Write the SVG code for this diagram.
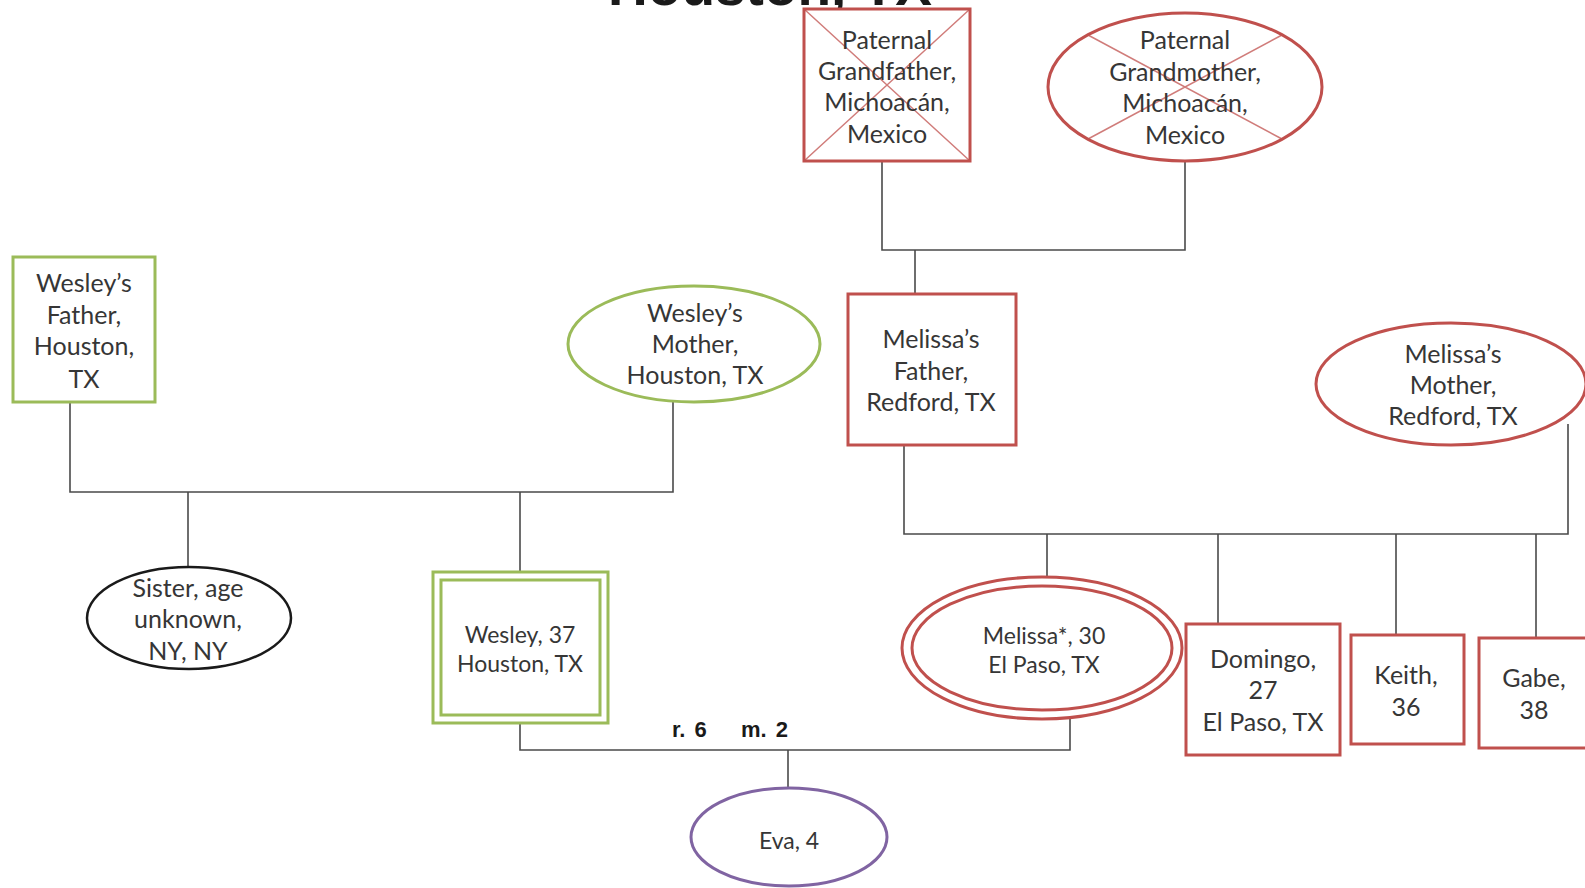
<svg xmlns="http://www.w3.org/2000/svg" width="1585" height="888" viewBox="0 0 1585 888">
  <style>
    .lbl { font-family: Lato, "Open Sans", "Liberation Sans", sans-serif; font-size: 25px; fill: #363636; text-anchor: middle; }
    .sm { font-size: 23px; }
    .title { font-family: "Liberation Sans", Arial, sans-serif; font-weight: bold; font-size: 55px; fill: #1a1a1a; text-anchor: middle; }
    .rel { font-family: "Liberation Sans", Arial, sans-serif; font-weight: bold; font-size: 22px; fill: #1a1a1a; word-spacing: 3px; }
    .red { fill: #ffffff; stroke: #c0504d; stroke-width: 3; }
    .green { fill: #ffffff; stroke: #9bbb59; stroke-width: 3; }
    .purple { fill: #ffffff; stroke: #8064a2; stroke-width: 3; }
    .black { fill: #ffffff; stroke: #1a1a1a; stroke-width: 2.5; }
    .cross { stroke: #c0504d; stroke-width: 1.5; stroke-opacity: 0.75; fill: none; }
    .link { stroke: #4a4a4a; stroke-width: 1.6; fill: none; }
  </style>

  <!-- title (runs off the top edge) -->
  <text class="title" x="770" y="5">Houston, TX</text>

  <!-- connectors -->
  <g id="connectors">
    <!-- paternal grandparents to Melissa's father -->
    <path class="link" d="M882 161 V250 H1185 V160"/>
    <path class="link" d="M915 250 V294"/>
    <!-- Wesley's parents and children -->
    <path class="link" d="M70 402 V492 H673 V402"/>
    <path class="link" d="M188 492 V567"/>
    <path class="link" d="M520 492 V572"/>
    <!-- Melissa's parents and children -->
    <path class="link" d="M904 445 V534 H1568 V424"/>
    <path class="link" d="M1047 534 V576"/>
    <path class="link" d="M1218 534 V624"/>
    <path class="link" d="M1396 534 V635"/>
    <path class="link" d="M1536 534 V638"/>
    <!-- Wesley and Melissa to Eva -->
    <path class="link" d="M520 723 V750 H1070 V719"/>
    <path class="link" d="M788 750 V788"/>
    <text class="rel" x="672" y="737">r. 6</text>
    <text class="rel" x="741" y="737">m. 2</text>
  </g>

  <!-- paternal grandfather (deceased) -->
  <g id="paternal-grandfather">
    <rect class="red" x="804" y="9" width="166" height="152"/>
    <path class="cross" d="M804 9 L970 161 M970 9 L804 161"/>
    <text class="lbl" x="887"><tspan x="887" y="49">Paternal</tspan><tspan x="887" y="80">Grandfather,</tspan><tspan x="887" y="111">Michoacán,</tspan><tspan x="887" y="143">Mexico</tspan></text>
  </g>

  <!-- paternal grandmother (deceased) -->
  <g id="paternal-grandmother">
    <ellipse class="red" cx="1185" cy="87" rx="137" ry="74"/>
    <path class="cross" d="M1088 35 L1282 139 M1282 35 L1088 139"/>
    <text class="lbl" x="1185"><tspan x="1185" y="49">Paternal</tspan><tspan x="1185" y="81">Grandmother,</tspan><tspan x="1185" y="112">Michoacán,</tspan><tspan x="1185" y="144">Mexico</tspan></text>
  </g>

  <!-- Wesley's father -->
  <g id="wesley-father">
    <rect class="green" x="13" y="257" width="142" height="145"/>
    <text class="lbl" x="84"><tspan x="84" y="292">Wesley’s</tspan><tspan x="84" y="324">Father,</tspan><tspan x="84" y="355">Houston,</tspan><tspan x="84" y="388">TX</tspan></text>
  </g>

  <!-- Wesley's mother -->
  <g id="wesley-mother">
    <ellipse class="green" cx="694" cy="344" rx="126" ry="58"/>
    <text class="lbl" x="695"><tspan x="695" y="322">Wesley’s</tspan><tspan x="695" y="353">Mother,</tspan><tspan x="695" y="384">Houston, TX</tspan></text>
  </g>

  <!-- Melissa's father -->
  <g id="melissa-father">
    <rect class="red" x="848" y="294" width="168" height="151"/>
    <text class="lbl" x="931"><tspan x="931" y="348">Melissa’s</tspan><tspan x="931" y="380">Father,</tspan><tspan x="931" y="411">Redford, TX</tspan></text>
  </g>

  <!-- Melissa's mother -->
  <g id="melissa-mother">
    <ellipse class="red" cx="1451" cy="384" rx="135" ry="61"/>
    <text class="lbl" x="1453"><tspan x="1453" y="363">Melissa’s</tspan><tspan x="1453" y="394">Mother,</tspan><tspan x="1453" y="425">Redford, TX</tspan></text>
  </g>

  <!-- sister -->
  <g id="sister">
    <ellipse class="black" cx="189" cy="618" rx="102" ry="51"/>
    <text class="lbl" x="188"><tspan x="188" y="597">Sister, age</tspan><tspan x="188" y="628">unknown,</tspan><tspan x="188" y="660">NY, NY</tspan></text>
  </g>

  <!-- Wesley (index person) -->
  <g id="wesley">
    <rect class="green" x="433" y="572" width="175" height="151"/>
    <rect class="green" x="441" y="580" width="159" height="135"/>
    <text class="lbl sm" x="520"><tspan x="520" y="643">Wesley, 37</tspan><tspan x="520" y="672">Houston, TX</tspan></text>
  </g>

  <!-- Melissa (index person) -->
  <g id="melissa">
    <ellipse class="red" cx="1042" cy="648" rx="140" ry="71"/>
    <ellipse class="red" cx="1042" cy="648" rx="130" ry="62"/>
    <text class="lbl sm" x="1044"><tspan x="1044" y="644">Melissa*, 30</tspan><tspan x="1044" y="673">El Paso, TX</tspan></text>
  </g>

  <!-- Domingo -->
  <g id="domingo">
    <rect class="red" x="1186" y="624" width="154" height="131"/>
    <text class="lbl" x="1263"><tspan x="1263" y="668">Domingo,</tspan><tspan x="1263" y="699">27</tspan><tspan x="1263" y="731">El Paso, TX</tspan></text>
  </g>

  <!-- Keith -->
  <g id="keith">
    <rect class="red" x="1351" y="635" width="113" height="109"/>
    <text class="lbl" x="1406"><tspan x="1406" y="684">Keith,</tspan><tspan x="1406" y="716">36</tspan></text>
  </g>

  <!-- Gabe -->
  <g id="gabe">
    <rect class="red" x="1479" y="638" width="112" height="110"/>
    <text class="lbl" x="1534"><tspan x="1534" y="687">Gabe,</tspan><tspan x="1534" y="719">38</tspan></text>
  </g>

  <!-- Eva -->
  <g id="eva">
    <ellipse class="purple" cx="789" cy="837" rx="98" ry="49"/>
    <text class="lbl sm" x="789" y="849">Eva, 4</text>
  </g>
</svg>
